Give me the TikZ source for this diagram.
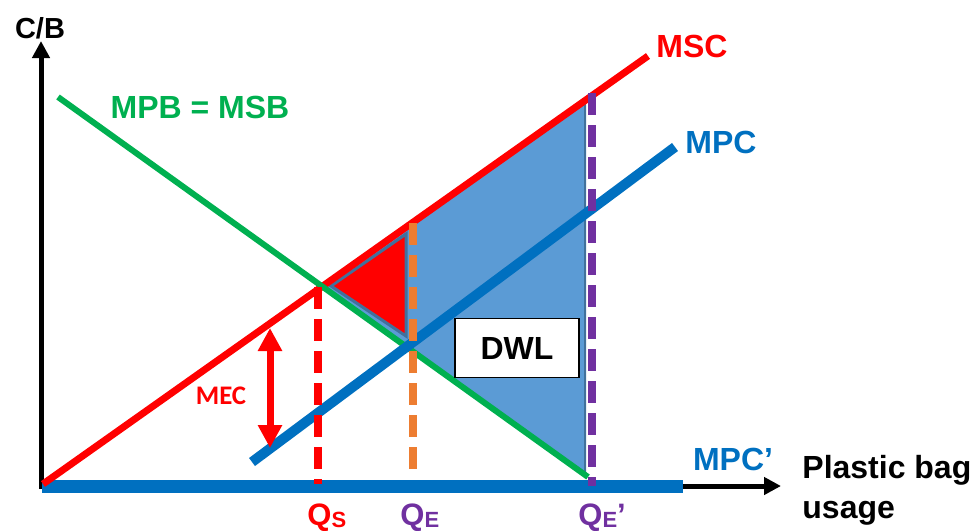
\documentclass[tikz,border=0pt]{standalone}
\usepackage{fontspec}
\setmainfont{Liberation Sans}
\newfontfamily\mecfont{Carlito}[BoldFont={Carlito Bold}]
\usetikzlibrary{arrows.meta}
\definecolor{mscred}{RGB}{255,0,0}
\definecolor{mpcblue}{RGB}{0,112,192}
\definecolor{mpbgreen}{RGB}{0,176,80}
\definecolor{qeorange}{RGB}{237,125,49}
\definecolor{qepurple}{RGB}{112,48,160}
\definecolor{dwlfill}{RGB}{91,155,213}
\definecolor{dwledge}{RGB}{65,113,156}
\newcommand{\sub}[1]{{\fontsize{11}{11}\selectfont\raisebox{-1pt}{#1}}}

\begin{document}
\begin{tikzpicture}[x=0.5pt,y=-0.5pt,
  lbl/.style={font=\fontsize{16}{19}\selectfont\bfseries,inner sep=0pt},
  qlbl/.style={font=\fontsize{15.5}{19}\selectfont\bfseries,inner sep=0pt,anchor=base west},
  qline/.style={line width=4pt,dash pattern=on 11pt off 5pt}]
  \useasboundingbox (0,0) rectangle (978,530);
  % points of the curves
  \coordinate (O) at (41,489);
  \coordinate (ytip) at (41,41);
  \coordinate (xo) at (41,486);
  \coordinate (xtip) at (781,486);
  \coordinate (msc0) at (43,484);   \coordinate (msc1) at (648,56);
  \coordinate (mpb0) at (58,97);    \coordinate (mpb1) at (588,477);
  \coordinate (mpc0) at (252,462);  \coordinate (mpc1) at (675,147);
  \coordinate (mpcp0) at (42,486);  \coordinate (mpcp1) at (683,486);
  \coordinate (E) at (322,287);
  \coordinate (dwlT) at (585,100);  \coordinate (dwlB) at (585,473);
  \coordinate (redL) at (331,286);  \coordinate (redT) at (406,234);
  \coordinate (redB) at (406,336);
  % dashed quantity lines
  \coordinate (qsT) at (318,287);   \coordinate (qsB) at (318,484);
  \coordinate (qeT) at (413,223);   \coordinate (qeB) at (413,472);
  \coordinate (qepT) at (592,93);   \coordinate (qepB) at (592,486);
  \coordinate (mecT) at (270,328);  \coordinate (mecB) at (270,448);

  \fill[dwlfill,draw=dwledge,line width=1pt] (E) -- (dwlT) -- (dwlB) -- cycle;
  \fill[mscred,draw=dwledge,line width=1.5pt] (redL) -- (redT) -- (redB) -- cycle;

  \draw[-{Triangle[length=8.5pt,width=8.5pt]},line width=2.5pt] (O) -- (ytip);
  \draw[-{Triangle[length=8.5pt,width=8.5pt]},line width=2.5pt] (xo) -- (xtip);
  \draw[mpcblue,line width=6.5pt] (mpcp0) -- (mpcp1);
  \draw[mscred,line width=3.5pt] (msc0) -- (msc1);
  \draw[mpbgreen,line width=3pt] (mpb0) -- (mpb1);
  \draw[mpcblue,line width=5pt] (mpc0) -- (mpc1);

  \draw[qline,mscred] (qsT) -- (qsB);
  \draw[qline,qeorange] (qeT) -- (qeB);
  \draw[qline,qepurple] (qepT) -- (qepB);

  \draw[{Triangle[length=11.5pt,width=11.5pt]}-{Triangle[length=11.5pt,width=11.5pt]},
    mscred,line width=3.5pt] (mecT) -- (mecB);
  \node[mscred,font=\mecfont\fontsize{13.4}{16}\selectfont\bfseries,inner sep=0pt]
    (mec) at (221,396) {MEC};

  \node[draw=black,fill=white,line width=0.8pt,minimum width=62pt,minimum height=29.5pt,
    lbl] (dwl) at (517,348) {DWL};

  \node[lbl,font=\fontsize{14.5}{18}\selectfont\bfseries] (cb) at (40,28) {C/B};
  \node[lbl,mscred] (msclbl) at (692,46) {MSC};
  \node[lbl,mpcblue] (mpclbl) at (721,142) {MPC};
  \node[lbl,mpbgreen] (mpblbl) at (200,107) {MPB = MSB};
  \node[lbl,mpcblue] (mpcplbl) at (733,459) {MPC’};
  \node[lbl,align=left,anchor=base west] (xlbl) at (802,518) {Plastic bag\\[1pt]usage};

  \node[qlbl,mscred] (qs) at (307,525) {Q\sub{S}};
  \node[qlbl,qepurple] (qe) at (400,525) {Q\sub{E}};
  \node[qlbl,qepurple] (qep) at (578,525) {Q\sub{E}’};
\end{tikzpicture}
\end{document}
